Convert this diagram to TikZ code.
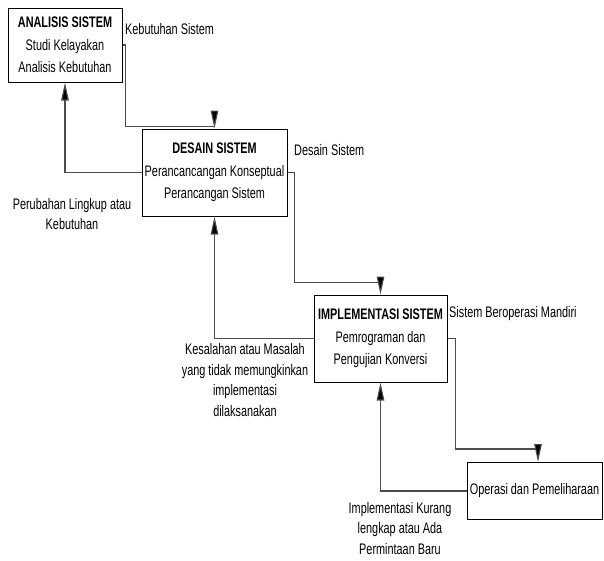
\documentclass[tikz,border=0pt]{standalone}
\usepackage{fontspec}
\setmainfont{Liberation Sans}[FakeStretch=0.71]
\usetikzlibrary{arrows.meta}

\begin{document}
\begin{tikzpicture}[x=1pt,y=-1pt,
    phase/.style={draw=black,line width=1pt,align=center,inner sep=2pt,
      font=\fontsize{15.3}{22.5}\selectfont},
    flow/.style={draw=black!70,line width=1.1pt,-{Triangle[length=18pt,width=7.5pt,fill=black]}},
    note/.style={align=center,inner sep=0pt,font=\fontsize{15.3}{20.5}\selectfont}]
  \useasboundingbox (0,0) rectangle (604,560);

% phase boxes
  \node[phase,minimum width=114pt,minimum height=74pt] (anal) at (65,45)
    {\textbf{ANALISIS SISTEM}\\Studi Kelayakan\\Analisis Kebutuhan};
  \node[phase,minimum width=145pt,minimum height=87pt] (desain) at (214.5,172.5)
    {\textbf{DESAIN SISTEM}\\Perancancangan Konseptual\\Perancangan Sistem};
  \node[phase,minimum width=133pt,minimum height=87pt] (impl) at (380.5,338.5)
    {\textbf{IMPLEMENTASI SISTEM}\\Pemrograman dan\\Pengujian Konversi};
  \node[phase,minimum width=135pt,minimum height=57pt] (oper) at (534.5,491)
    {Operasi dan Pemeliharaan};

% going down
  \draw[flow] (anal.east) -- ++(3,0) |- ([yshift=2pt]desain.north) -- (desain.north);
  \draw[flow] (desain.east) -- ++(7,0) |- ([yshift=12pt]impl.north) -- (impl.north);
  \draw[flow] (impl.east) -- ++(8,0) |- ([xshift=3.5pt,yshift=13pt]oper.north)
    -- ([xshift=3.5pt]oper.north);

% going back up
  \draw[flow] (desain.west) -| (anal.south);
  \draw[flow] (impl.west) -| (desain.south);
  \draw[flow] (oper.west) -| (impl.south);

% labels
  \node[note,anchor=west] (lkeb) at (125,29) {Kebutuhan Sistem};
  \node[note,anchor=west] (ldes) at (294,150) {Desain Sistem};
  \node[note,anchor=west] (lmand) at (449,314) {Sistem Beroperasi Mandiri};
  \node[note] (lubah) at (72,214) {Perubahan Lingkup atau\\Kebutuhan};
  \node[note] (lsalah) at (245,380)
    {Kesalahan atau Masalah\\yang tidak memungkinkan\\implementasi\\dilaksanakan};
  \node[note] (lkurang) at (400,528.5)
    {Implementasi Kurang\\lengkap atau Ada\\Permintaan Baru};
\end{tikzpicture}
\end{document}
